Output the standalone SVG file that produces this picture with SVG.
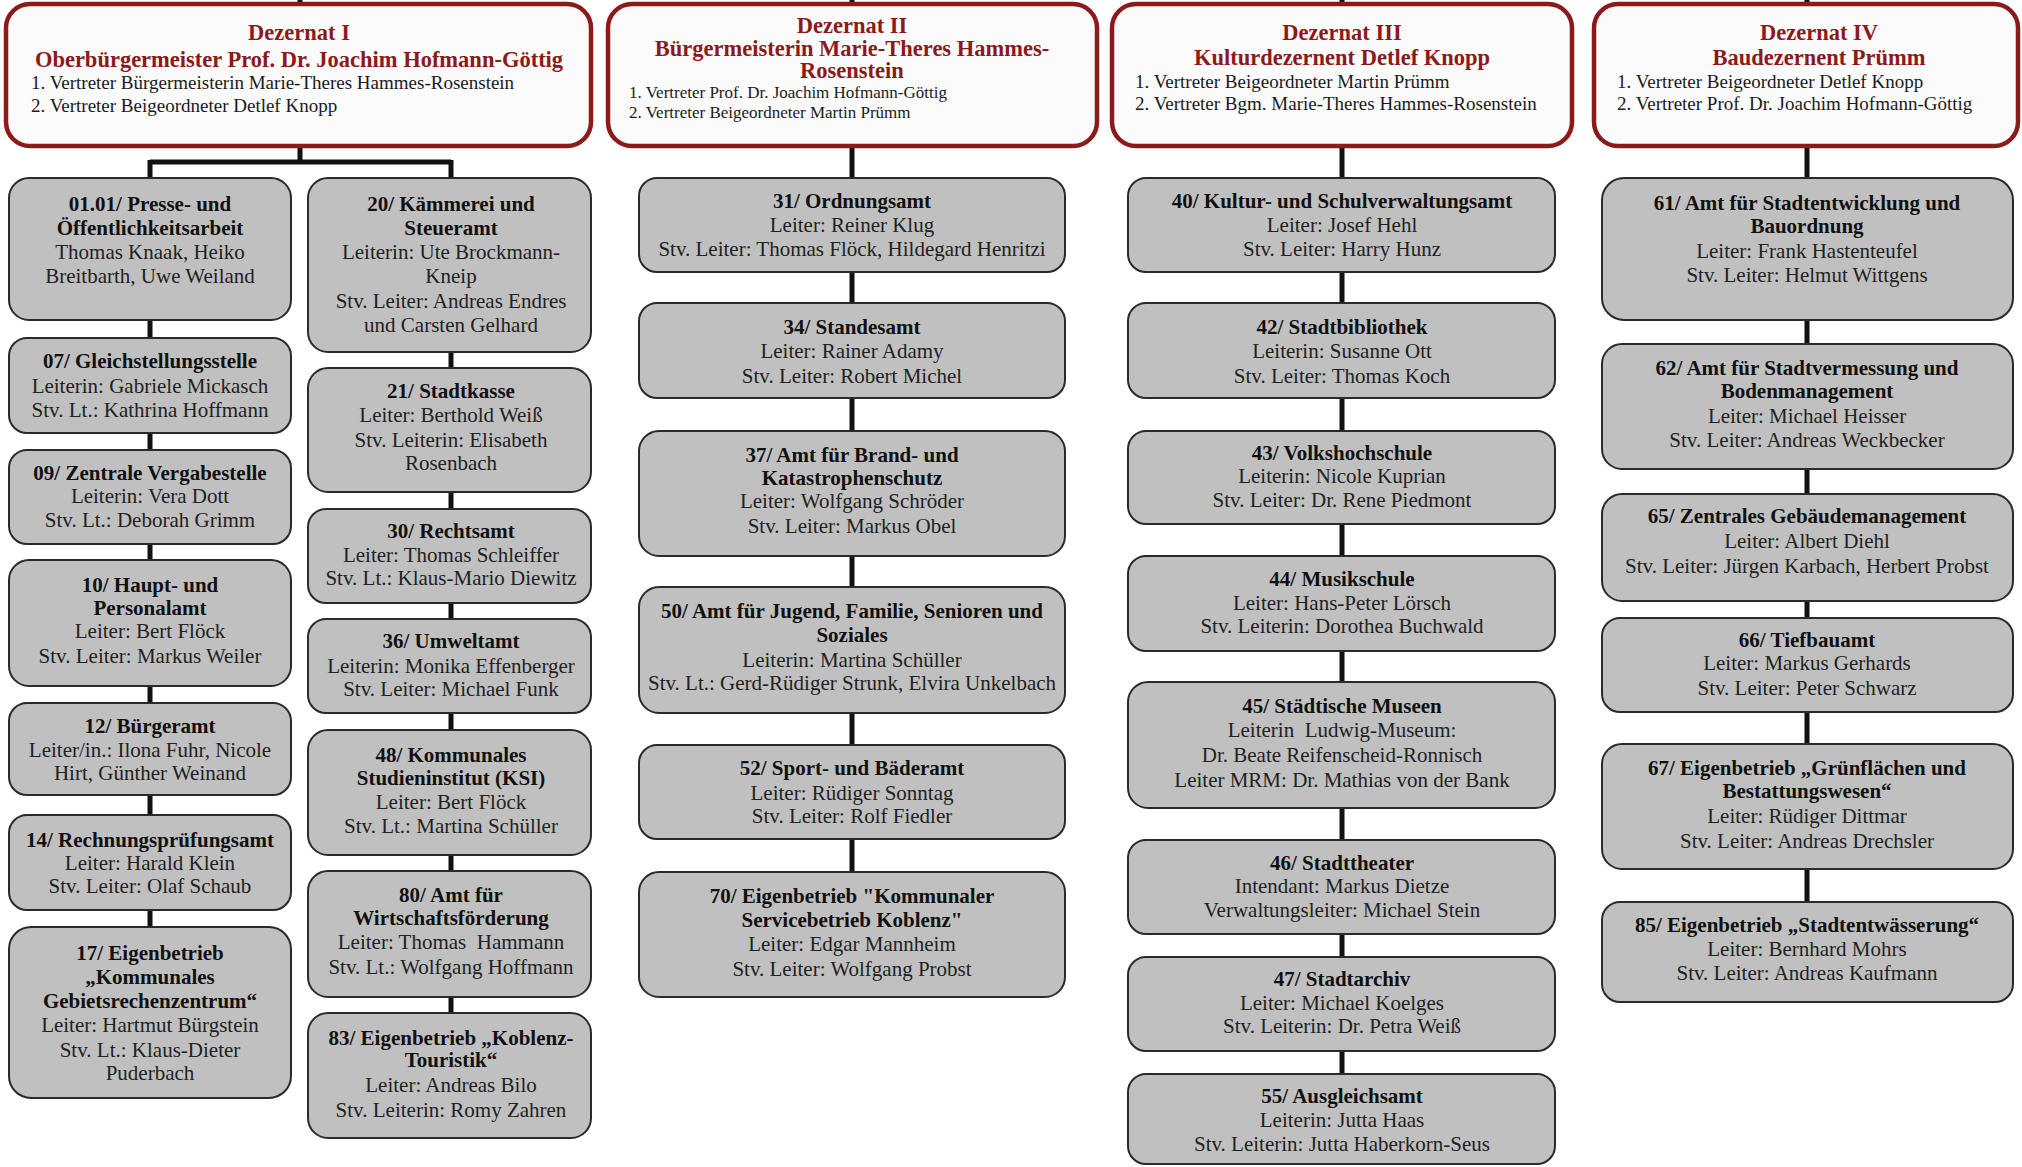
<svg xmlns="http://www.w3.org/2000/svg" width="2022" height="1167" viewBox="0 0 2022 1167">
<style>
.dz{fill:#fbfbfb;stroke:#8b1a1a;stroke-width:4.5}
.bx{fill:#c0c0c0;stroke:#2a2a2a;stroke-width:2}
.h{font-family:"Liberation Serif",serif;font-weight:bold;font-size:22.5px;fill:#8b1a1a;text-anchor:middle}
.v{font-family:"Liberation Serif",serif;font-size:19px;fill:#1a1a1a}
.v2{font-size:17px}
.t{font-family:"Liberation Serif",serif;font-weight:bold;font-size:21px;fill:#111;text-anchor:middle}
.r{font-family:"Liberation Serif",serif;font-size:21px;fill:#222;text-anchor:middle}
.cn line{stroke:#111;stroke-width:5}
</style>
<rect width="2022" height="1167" fill="#ffffff"/>
<g id="connectors" class="cn">
<line x1="300" y1="0" x2="300" y2="6"/>
<line x1="300" y1="146" x2="300" y2="162"/>
<line x1="150" y1="162" x2="451" y2="162"/>
<line x1="150" y1="160" x2="150" y2="178"/>
<line x1="451" y1="160" x2="451" y2="178"/>
<line x1="150" y1="320" x2="150" y2="338"/>
<line x1="150" y1="433" x2="150" y2="450"/>
<line x1="150" y1="544" x2="150" y2="560"/>
<line x1="150" y1="686" x2="150" y2="703"/>
<line x1="150" y1="795" x2="150" y2="815"/>
<line x1="150" y1="910" x2="150" y2="927"/>
<line x1="451" y1="352" x2="451" y2="368"/>
<line x1="451" y1="492" x2="451" y2="509"/>
<line x1="451" y1="603" x2="451" y2="619"/>
<line x1="451" y1="713" x2="451" y2="730"/>
<line x1="451" y1="855" x2="451" y2="871"/>
<line x1="451" y1="997" x2="451" y2="1013"/>
<line x1="852" y1="0" x2="852" y2="6"/>
<line x1="852" y1="146" x2="852" y2="178"/>
<line x1="852" y1="272" x2="852" y2="303"/>
<line x1="852" y1="398" x2="852" y2="431"/>
<line x1="852" y1="556" x2="852" y2="587"/>
<line x1="852" y1="713" x2="852" y2="745"/>
<line x1="852" y1="839" x2="852" y2="872"/>
<line x1="1342" y1="0" x2="1342" y2="6"/>
<line x1="1342" y1="146" x2="1342" y2="178"/>
<line x1="1342" y1="272" x2="1342" y2="303"/>
<line x1="1342" y1="398" x2="1342" y2="431"/>
<line x1="1342" y1="524" x2="1342" y2="556"/>
<line x1="1342" y1="651" x2="1342" y2="682"/>
<line x1="1342" y1="808" x2="1342" y2="840"/>
<line x1="1342" y1="934" x2="1342" y2="957"/>
<line x1="1342" y1="1051" x2="1342" y2="1074"/>
<line x1="1807" y1="0" x2="1807" y2="6"/>
<line x1="1807" y1="146" x2="1807" y2="178"/>
<line x1="1807" y1="320" x2="1807" y2="344"/>
<line x1="1807" y1="469" x2="1807" y2="494"/>
<line x1="1807" y1="601" x2="1807" y2="618"/>
<line x1="1807" y1="712" x2="1807" y2="744"/>
<line x1="1807" y1="869" x2="1807" y2="902"/>
</g>

<g id="dez1"><rect class="dz" x="6" y="4" width="585" height="142" rx="24"/>
<text class="h" x="299" y="40">Dezernat I</text>
<text class="h" x="299" y="67">Oberbürgermeister Prof. Dr. Joachim Hofmann-Göttig</text>
<text class="v" x="31" y="89">1. Vertreter Bürgermeisterin Marie-Theres Hammes-Rosenstein</text>
<text class="v" x="31" y="112">2. Vertreter Beigeordneter Detlef Knopp</text></g>

<g id="dez2"><rect class="dz" x="608" y="4" width="489" height="142" rx="24"/>
<text class="h" x="852" y="33" font-size="21.5">Dezernat II</text>
<text class="h" x="852" y="56" font-size="21.5">Bürgermeisterin Marie-Theres Hammes-</text>
<text class="h" x="852" y="78" font-size="21.5">Rosenstein</text>
<text class="v v2" x="629" y="98">1. Vertreter Prof. Dr. Joachim Hofmann-Göttig</text>
<text class="v v2" x="629" y="118">2. Vertreter Beigeordneter Martin Prümm</text></g>

<g id="dez3"><rect class="dz" x="1112" y="4" width="460" height="142" rx="24"/>
<text class="h" x="1342" y="40">Dezernat III</text>
<text class="h" x="1342" y="65">Kulturdezernent Detlef Knopp</text>
<text class="v" x="1135" y="88">1. Vertreter Beigeordneter Martin Prümm</text>
<text class="v" x="1135" y="110">2. Vertreter Bgm. Marie-Theres Hammes-Rosenstein</text></g>

<g id="dez4"><rect class="dz" x="1594" y="4" width="424" height="142" rx="24"/>
<text class="h" x="1819" y="40">Dezernat IV</text>
<text class="h" x="1819" y="65">Baudezernent Prümm</text>
<text class="v" x="1617" y="88">1. Vertreter Beigeordneter Detlef Knopp</text>
<text class="v" x="1617" y="110">2. Vertreter Prof. Dr. Joachim Hofmann-Göttig</text></g>

<g id="a0101"><rect class="bx" x="9" y="178" width="282" height="142" rx="20"/>
<text class="t" x="150" y="211">01.01/ Presse- und</text>
<text class="t" x="150" y="235">Öffentlichkeitsarbeit</text>
<text class="r" x="150" y="259">Thomas Knaak, Heiko</text>
<text class="r" x="150" y="283">Breitbarth, Uwe Weiland</text></g>

<g id="a07"><rect class="bx" x="9" y="338" width="282" height="95" rx="18"/>
<text class="t" x="150" y="368">07/ Gleichstellungsstelle</text>
<text class="r" x="150" y="393">Leiterin: Gabriele Mickasch</text>
<text class="r" x="150" y="417">Stv. Lt.: Kathrina Hoffmann</text></g>

<g id="a09"><rect class="bx" x="9" y="450" width="282" height="94" rx="18"/>
<text class="t" x="150" y="480">09/ Zentrale Vergabestelle</text>
<text class="r" x="150" y="503">Leiterin: Vera Dott</text>
<text class="r" x="150" y="527">Stv. Lt.: Deborah Grimm</text></g>

<g id="a10"><rect class="bx" x="9" y="560" width="282" height="126" rx="20"/>
<text class="t" x="150" y="592">10/ Haupt- und</text>
<text class="t" x="150" y="615">Personalamt</text>
<text class="r" x="150" y="638">Leiter: Bert Flöck</text>
<text class="r" x="150" y="663">Stv. Leiter: Markus Weiler</text></g>

<g id="a12"><rect class="bx" x="9" y="703" width="282" height="92" rx="18"/>
<text class="t" x="150" y="733">12/ Bürgeramt</text>
<text class="r" x="150" y="757">Leiter/in.: Ilona Fuhr, Nicole</text>
<text class="r" x="150" y="780">Hirt, Günther Weinand</text></g>

<g id="a14"><rect class="bx" x="9" y="815" width="282" height="95" rx="18"/>
<text class="t" x="150" y="847">14/ Rechnungsprüfungsamt</text>
<text class="r" x="150" y="870">Leiter: Harald Klein</text>
<text class="r" x="150" y="893">Stv. Leiter: Olaf Schaub</text></g>

<g id="a17"><rect class="bx" x="9" y="927" width="282" height="171" rx="22"/>
<text class="t" x="150" y="960">17/ Eigenbetrieb</text>
<text class="t" x="150" y="984">„Kommunales</text>
<text class="t" x="150" y="1008">Gebietsrechenzentrum“</text>
<text class="r" x="150" y="1032">Leiter: Hartmut Bürgstein</text>
<text class="r" x="150" y="1057">Stv. Lt.: Klaus-Dieter</text>
<text class="r" x="150" y="1080">Puderbach</text></g>

<g id="b20"><rect class="bx" x="308" y="178" width="283" height="174" rx="20"/>
<text class="t" x="451" y="211">20/ Kämmerei und</text>
<text class="t" x="451" y="235">Steueramt</text>
<text class="r" x="451" y="259">Leiterin: Ute Brockmann-</text>
<text class="r" x="451" y="283">Kneip</text>
<text class="r" x="451" y="308">Stv. Leiter: Andreas Endres</text>
<text class="r" x="451" y="332">und Carsten Gelhard</text></g>

<g id="b21"><rect class="bx" x="308" y="368" width="283" height="124" rx="20"/>
<text class="t" x="451" y="398">21/ Stadtkasse</text>
<text class="r" x="451" y="422">Leiter: Berthold Weiß</text>
<text class="r" x="451" y="447">Stv. Leiterin: Elisabeth</text>
<text class="r" x="451" y="470">Rosenbach</text></g>

<g id="b30"><rect class="bx" x="308" y="509" width="283" height="94" rx="18"/>
<text class="t" x="451" y="538">30/ Rechtsamt</text>
<text class="r" x="451" y="562">Leiter: Thomas Schleiffer</text>
<text class="r" x="451" y="585">Stv. Lt.: Klaus-Mario Diewitz</text></g>

<g id="b36"><rect class="bx" x="308" y="619" width="283" height="94" rx="18"/>
<text class="t" x="451" y="648">36/ Umweltamt</text>
<text class="r" x="451" y="673">Leiterin: Monika Effenberger</text>
<text class="r" x="451" y="696">Stv. Leiter: Michael Funk</text></g>

<g id="b48"><rect class="bx" x="308" y="730" width="283" height="125" rx="20"/>
<text class="t" x="451" y="762">48/ Kommunales</text>
<text class="t" x="451" y="785">Studieninstitut (KSI)</text>
<text class="r" x="451" y="809">Leiter: Bert Flöck</text>
<text class="r" x="451" y="833">Stv. Lt.: Martina Schüller</text></g>

<g id="b80"><rect class="bx" x="308" y="871" width="283" height="126" rx="20"/>
<text class="t" x="451" y="902">80/ Amt für</text>
<text class="t" x="451" y="925">Wirtschaftsförderung</text>
<text class="r" x="451" y="949" xml:space="preserve">Leiter: Thomas  Hammann</text>
<text class="r" x="451" y="974">Stv. Lt.: Wolfgang Hoffmann</text></g>

<g id="b83"><rect class="bx" x="308" y="1013" width="283" height="125" rx="20"/>
<text class="t" x="451" y="1045">83/ Eigenbetrieb „Koblenz-</text>
<text class="t" x="451" y="1067">Touristik“</text>
<text class="r" x="451" y="1092">Leiter: Andreas Bilo</text>
<text class="r" x="451" y="1117">Stv. Leiterin: Romy Zahren</text></g>

<g id="c31"><rect class="bx" x="639" y="178" width="426" height="94" rx="18"/>
<text class="t" x="852" y="208">31/ Ordnungsamt</text>
<text class="r" x="852" y="232">Leiter: Reiner Klug</text>
<text class="r" x="852" y="256">Stv. Leiter: Thomas Flöck, Hildegard Henritzi</text></g>

<g id="c34"><rect class="bx" x="639" y="303" width="426" height="95" rx="18"/>
<text class="t" x="852" y="334">34/ Standesamt</text>
<text class="r" x="852" y="358">Leiter: Rainer Adamy</text>
<text class="r" x="852" y="383">Stv. Leiter: Robert Michel</text></g>

<g id="c37"><rect class="bx" x="639" y="431" width="426" height="125" rx="20"/>
<text class="t" x="852" y="462">37/ Amt für Brand- und</text>
<text class="t" x="852" y="485">Katastrophenschutz</text>
<text class="r" x="852" y="508">Leiter: Wolfgang Schröder</text>
<text class="r" x="852" y="533">Stv. Leiter: Markus Obel</text></g>

<g id="c50"><rect class="bx" x="639" y="587" width="426" height="126" rx="20"/>
<text class="t" x="852" y="618">50/ Amt für Jugend, Familie, Senioren und</text>
<text class="t" x="852" y="642">Soziales</text>
<text class="r" x="852" y="667">Leiterin: Martina Schüller</text>
<text class="r" x="852" y="690" font-size="19">Stv. Lt.: Gerd-Rüdiger Strunk, Elvira Unkelbach</text></g>

<g id="c52"><rect class="bx" x="639" y="745" width="426" height="94" rx="18"/>
<text class="t" x="852" y="775">52/ Sport- und Bäderamt</text>
<text class="r" x="852" y="800">Leiter: Rüdiger Sonntag</text>
<text class="r" x="852" y="823">Stv. Leiter: Rolf Fiedler</text></g>

<g id="c70"><rect class="bx" x="639" y="872" width="426" height="125" rx="20"/>
<text class="t" x="852" y="903">70/ Eigenbetrieb "Kommunaler</text>
<text class="t" x="852" y="927">Servicebetrieb Koblenz"</text>
<text class="r" x="852" y="951">Leiter: Edgar Mannheim</text>
<text class="r" x="852" y="976">Stv. Leiter: Wolfgang Probst</text></g>

<g id="d40"><rect class="bx" x="1128" y="178" width="427" height="94" rx="18"/>
<text class="t" x="1342" y="208">40/ Kultur- und Schulverwaltungsamt</text>
<text class="r" x="1342" y="232">Leiter: Josef Hehl</text>
<text class="r" x="1342" y="256">Stv. Leiter: Harry Hunz</text></g>

<g id="d42"><rect class="bx" x="1128" y="303" width="427" height="95" rx="18"/>
<text class="t" x="1342" y="334">42/ Stadtbibliothek</text>
<text class="r" x="1342" y="358">Leiterin: Susanne Ott</text>
<text class="r" x="1342" y="383">Stv. Leiter: Thomas Koch</text></g>

<g id="d43"><rect class="bx" x="1128" y="431" width="427" height="93" rx="18"/>
<text class="t" x="1342" y="460">43/ Volkshochschule</text>
<text class="r" x="1342" y="483">Leiterin: Nicole Kuprian</text>
<text class="r" x="1342" y="507">Stv. Leiter: Dr. Rene Piedmont</text></g>

<g id="d44"><rect class="bx" x="1128" y="556" width="427" height="95" rx="18"/>
<text class="t" x="1342" y="586">44/ Musikschule</text>
<text class="r" x="1342" y="610">Leiter: Hans-Peter Lörsch</text>
<text class="r" x="1342" y="633">Stv. Leiterin: Dorothea Buchwald</text></g>

<g id="d45"><rect class="bx" x="1128" y="682" width="427" height="126" rx="20"/>
<text class="t" x="1342" y="713">45/ Städtische Museen</text>
<text class="r" x="1342" y="737" xml:space="preserve">Leiterin  Ludwig-Museum:</text>
<text class="r" x="1342" y="762">Dr. Beate Reifenscheid-Ronnisch</text>
<text class="r" x="1342" y="787">Leiter MRM: Dr. Mathias von der Bank</text></g>

<g id="d46"><rect class="bx" x="1128" y="840" width="427" height="94" rx="18"/>
<text class="t" x="1342" y="870">46/ Stadttheater</text>
<text class="r" x="1342" y="893">Intendant: Markus Dietze</text>
<text class="r" x="1342" y="917">Verwaltungsleiter: Michael Stein</text></g>

<g id="d47"><rect class="bx" x="1128" y="957" width="427" height="94" rx="18"/>
<text class="t" x="1342" y="986">47/ Stadtarchiv</text>
<text class="r" x="1342" y="1010">Leiter: Michael Koelges</text>
<text class="r" x="1342" y="1033">Stv. Leiterin: Dr. Petra Weiß</text></g>

<g id="d55"><rect class="bx" x="1128" y="1074" width="427" height="90" rx="18"/>
<text class="t" x="1342" y="1103">55/ Ausgleichsamt</text>
<text class="r" x="1342" y="1127">Leiterin: Jutta Haas</text>
<text class="r" x="1342" y="1151">Stv. Leiterin: Jutta Haberkorn-Seus</text></g>

<g id="e61"><rect class="bx" x="1602" y="178" width="411" height="142" rx="22"/>
<text class="t" x="1807" y="210">61/ Amt für Stadtentwicklung und</text>
<text class="t" x="1807" y="233">Bauordnung</text>
<text class="r" x="1807" y="258">Leiter: Frank Hastenteufel</text>
<text class="r" x="1807" y="282">Stv. Leiter: Helmut Wittgens</text></g>

<g id="e62"><rect class="bx" x="1602" y="344" width="411" height="125" rx="20"/>
<text class="t" x="1807" y="375">62/ Amt für Stadtvermessung und</text>
<text class="t" x="1807" y="398">Bodenmanagement</text>
<text class="r" x="1807" y="423">Leiter: Michael Heisser</text>
<text class="r" x="1807" y="447">Stv. Leiter: Andreas Weckbecker</text></g>

<g id="e65"><rect class="bx" x="1602" y="494" width="411" height="107" rx="20"/>
<text class="t" x="1807" y="523">65/ Zentrales Gebäudemanagement</text>
<text class="r" x="1807" y="548">Leiter: Albert Diehl</text>
<text class="r" x="1807" y="573">Stv. Leiter: Jürgen Karbach, Herbert Probst</text></g>

<g id="e66"><rect class="bx" x="1602" y="618" width="411" height="94" rx="18"/>
<text class="t" x="1807" y="647">66/ Tiefbauamt</text>
<text class="r" x="1807" y="670">Leiter: Markus Gerhards</text>
<text class="r" x="1807" y="695">Stv. Leiter: Peter Schwarz</text></g>

<g id="e67"><rect class="bx" x="1602" y="744" width="411" height="125" rx="20"/>
<text class="t" x="1807" y="775">67/ Eigenbetrieb „Grünflächen und</text>
<text class="t" x="1807" y="798">Bestattungswesen“</text>
<text class="r" x="1807" y="823">Leiter: Rüdiger Dittmar</text>
<text class="r" x="1807" y="848">Stv. Leiter: Andreas Drechsler</text></g>

<g id="e85"><rect class="bx" x="1602" y="902" width="411" height="100" rx="18"/>
<text class="t" x="1807" y="932">85/ Eigenbetrieb „Stadtentwässerung“</text>
<text class="r" x="1807" y="956">Leiter: Bernhard Mohrs</text>
<text class="r" x="1807" y="980">Stv. Leiter: Andreas Kaufmann</text></g>
</svg>
